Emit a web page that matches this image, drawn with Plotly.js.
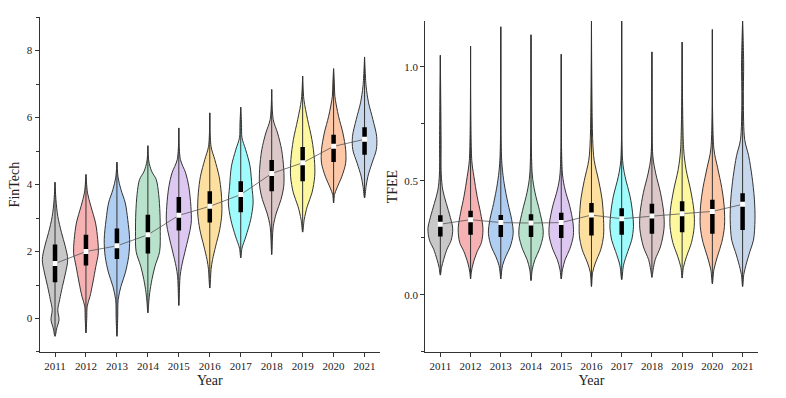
<!DOCTYPE html>
<html>
<head>
<meta charset="utf-8">
<script src="https://cdn.plot.ly/plotly-3.0.1.min.js"></script>
<style>
  html, body { margin: 0; padding: 0; background: #fff; }
  #chart { width: 786px; height: 398px; }
</style>
</head>
<body>
<div id="chart"></div>
<script>
const years = [2011, 2012, 2013, 2014, 2015, 2016, 2017, 2018, 2019, 2020, 2021];
const yearColors = ['#c8c8c8', '#f6b2b2', '#b0cdf2', '#b8e2cc', '#dcc8f0', '#fde0a0',
                    '#a0fcfc', '#dcc8c8', '#fdf8a0', '#fcc8a8', '#c8d8ec'];

// FinTech: violin outline, value levels (bottom -> top) and density half widths
const finLevels = [
  [-0.53, -0.28, -0.04, 0.26, 0.56, 0.96, 1.36, 1.76, 2.16, 2.56, 3.05, 3.55, 4.07],
  [-0.43, 0.0, 0.37, 0.66, 1.06, 1.56, 1.96, 2.36, 2.85, 3.35, 3.75, 4.3],
  [-0.53, 0.0, 0.56, 0.96, 1.36, 1.86, 2.36, 2.95, 3.45, 3.85, 4.2, 4.67],
  [0.17, 0.5, 0.77, 1.16, 1.56, 2.0, 2.6, 3.15, 3.7, 4.15, 4.4, 4.7, 5.16],
  [0.39, 1.0, 1.26, 1.56, 1.96, 2.46, 2.85, 3.35, 3.95, 4.35, 4.75, 5.69],
  [0.91, 1.2, 1.46, 1.76, 2.16, 2.65, 3.15, 3.75, 4.25, 4.75, 5.14, 6.14],
  [1.81, 2.1, 2.46, 2.95, 3.45, 3.95, 4.55, 5.04, 5.4, 5.8, 6.31],
  [1.91, 2.4, 2.75, 3.15, 3.55, 3.95, 4.45, 5.04, 5.54, 5.94, 6.84],
  [2.58, 2.95, 3.35, 3.75, 4.25, 4.75, 5.34, 5.94, 6.54, 7.24],
  [3.45, 3.7, 3.9, 4.25, 4.64, 5.04, 5.54, 6.04, 6.64, 7.0, 7.46],
  [3.6, 3.95, 4.25, 4.64, 5.04, 5.44, 5.94, 6.44, 6.94, 7.81]
];
const finHalfWidths = [
  [0, 0.06, 0.13, 0.09, 0.15, 0.24, 0.34, 0.41, 0.33, 0.21, 0.09, 0.03, 0],
  [0, 0.025, 0.04, 0.13, 0.22, 0.32, 0.40, 0.38, 0.31, 0.16, 0.05, 0],
  [0, 0.025, 0.04, 0.13, 0.27, 0.38, 0.41, 0.35, 0.27, 0.13, 0.04, 0],
  [0, 0.03, 0.06, 0.13, 0.23, 0.38, 0.40, 0.39, 0.35, 0.27, 0.12, 0.03, 0],
  [0, 0.025, 0.04, 0.09, 0.19, 0.32, 0.40, 0.39, 0.32, 0.22, 0.05, 0],
  [0, 0.025, 0.04, 0.09, 0.19, 0.32, 0.39, 0.37, 0.30, 0.16, 0.04, 0],
  [0, 0.04, 0.17, 0.32, 0.40, 0.36, 0.30, 0.16, 0.04, 0.025, 0],
  [0, 0.025, 0.05, 0.15, 0.30, 0.39, 0.39, 0.32, 0.19, 0.05, 0],
  [0, 0.05, 0.15, 0.30, 0.39, 0.38, 0.30, 0.16, 0.04, 0],
  [0, 0.03, 0.11, 0.27, 0.39, 0.39, 0.30, 0.16, 0.04, 0.025, 0],
  [0, 0.05, 0.11, 0.24, 0.38, 0.39, 0.27, 0.13, 0.05, 0]
];
const finQ1 = [1.08, 1.58, 1.78, 1.94, 2.63, 2.87, 3.17, 3.8, 4.1, 4.67, 4.89];
const finQ3 = [2.21, 2.5, 2.69, 3.1, 3.63, 3.8, 4.1, 4.73, 5.12, 5.49, 5.71];
const finMedian = [1.64, 2.0, 2.17, 2.5, 3.08, 3.35, 3.7, 4.33, 4.65, 5.14, 5.35];

// TFEE
const tfeeLevels = [
  [0.087, 0.12, 0.155, 0.20, 0.24, 0.29, 0.34, 0.40, 0.46, 0.53, 0.68, 1.05],
  [0.07, 0.10, 0.14, 0.19, 0.23, 0.29, 0.36, 0.43, 0.52, 0.59, 1.09],
  [0.07, 0.10, 0.13, 0.17, 0.21, 0.27, 0.33, 0.40, 0.49, 0.59, 1.175],
  [0.063, 0.11, 0.155, 0.20, 0.26, 0.30, 0.37, 0.45, 0.53, 1.14],
  [0.07, 0.11, 0.155, 0.20, 0.26, 0.315, 0.39, 0.46, 0.53, 1.055],
  [0.037, 0.10, 0.14, 0.20, 0.26, 0.33, 0.42, 0.50, 0.59, 0.68, 1.2],
  [0.067, 0.13, 0.19, 0.24, 0.30, 0.36, 0.43, 0.52, 0.59, 1.2],
  [0.077, 0.11, 0.155, 0.21, 0.29, 0.36, 0.45, 0.53, 0.61, 1.065],
  [0.074, 0.12, 0.17, 0.23, 0.30, 0.37, 0.46, 0.55, 0.64, 1.108],
  [0.049, 0.11, 0.17, 0.23, 0.30, 0.39, 0.47, 0.56, 0.64, 1.163],
  [0.037, 0.09, 0.13, 0.19, 0.24, 0.33, 0.42, 0.52, 0.61, 0.68, 0.85, 1.02, 1.2]
];
const tfeeHalfWidths = [
  [0, 0.04, 0.11, 0.22, 0.36, 0.41, 0.33, 0.20, 0.08, 0.03, 0.025, 0],
  [0, 0.025, 0.09, 0.22, 0.36, 0.41, 0.33, 0.22, 0.11, 0.04, 0],
  [0, 0.025, 0.06, 0.17, 0.31, 0.41, 0.36, 0.24, 0.11, 0.03, 0],
  [0, 0.04, 0.13, 0.28, 0.40, 0.39, 0.28, 0.13, 0.04, 0],
  [0, 0.04, 0.13, 0.28, 0.40, 0.39, 0.28, 0.13, 0.04, 0],
  [0, 0.04, 0.13, 0.31, 0.40, 0.40, 0.35, 0.24, 0.09, 0.04, 0],
  [0, 0.06, 0.20, 0.33, 0.39, 0.36, 0.28, 0.11, 0.03, 0],
  [0, 0.04, 0.11, 0.28, 0.40, 0.39, 0.28, 0.13, 0.03, 0],
  [0, 0.04, 0.15, 0.31, 0.40, 0.39, 0.28, 0.13, 0.05, 0],
  [0, 0.05, 0.17, 0.31, 0.40, 0.39, 0.31, 0.17, 0.05, 0],
  [0, 0.04, 0.11, 0.24, 0.36, 0.41, 0.39, 0.31, 0.20, 0.07, 0.025, 0.035, 0]
];
const tfeeQ1 = [0.256, 0.264, 0.254, 0.254, 0.25, 0.26, 0.264, 0.268, 0.275, 0.268, 0.285];
const tfeeQ3 = [0.349, 0.369, 0.35, 0.354, 0.36, 0.403, 0.38, 0.40, 0.41, 0.417, 0.446];
const tfeeMedian = [0.31, 0.33, 0.317, 0.315, 0.317, 0.35, 0.334, 0.346, 0.356, 0.366, 0.397];

const outline = '#333333';

function panelTraces(levels, halfWidths, q1, q3, med, xa, ya) {
  const traces = [];
  years.forEach((yr, i) => {
    const lv = levels[i], hw = halfWidths[i];
    const xs = lv.map((v, k) => yr + hw[k]).concat(lv.slice().reverse().map((v, k) => yr - hw[hw.length - 1 - k]));
    const ys = lv.concat(lv.slice().reverse());
    traces.push({
      type: 'scatter', mode: 'lines', x: xs, y: ys, xaxis: xa, yaxis: ya,
      fill: 'toself', fillcolor: yearColors[i],
      line: { color: outline, width: 1, shape: 'spline', smoothing: 0.9 },
      hoverinfo: 'skip', showlegend: false
    });
  });
  // whiskers (min to max) and interquartile boxes
  const wx = [], wy = [], bx = [], by = [];
  years.forEach((yr, i) => {
    wx.push(yr, yr, null);
    wy.push(levels[i][0], levels[i][levels[i].length - 1], null);
    bx.push(yr, yr, null);
    by.push(q1[i], q3[i], null);
  });
  traces.push({ type: 'scatter', mode: 'lines', x: wx, y: wy, xaxis: xa, yaxis: ya,
    line: { color: outline, width: 1 }, showlegend: false, hoverinfo: 'skip' });
  traces.push({ type: 'scatter', mode: 'lines', x: bx, y: by, xaxis: xa, yaxis: ya,
    line: { color: '#000', width: 4.5 }, showlegend: false, hoverinfo: 'skip' });
  traces.push({ type: 'scatter', mode: 'lines+markers', x: years, y: med, xaxis: xa, yaxis: ya,
    line: { color: '#555', width: 0.8 },
    marker: { color: '#fff', size: 5, symbol: 'square', line: { width: 0 } },
    showlegend: false });
  return traces;
}

const data = panelTraces(finLevels, finHalfWidths, finQ1, finQ3, finMedian, 'x', 'y')
  .concat(panelTraces(tfeeLevels, tfeeHalfWidths, tfeeQ1, tfeeQ3, tfeeMedian, 'x2', 'y2'));

const tickFont = { family: 'Liberation Serif', size: 11, color: '#222' };
const titleFont = { family: 'Liberation Serif', size: 14, color: '#222' };

const xBase = {
  range: [2010.5, 2021.5], tickvals: years, ticktext: years.map(String),
  showline: true, linecolor: outline, linewidth: 1, ticks: 'outside', ticklen: 4,
  tickcolor: outline, showgrid: false, zeroline: false, tickfont: tickFont,
  title: { text: 'Year', font: titleFont, standoff: 4 }
};

const layout = {
  width: 786, height: 398,
  margin: { l: 0, r: 0, t: 0, b: 0 },
  paper_bgcolor: '#fff', plot_bgcolor: '#fff',
  showlegend: false,
  xaxis: Object.assign({}, xBase, { domain: [0.0503, 0.4835], anchor: 'y' }),
  yaxis: {
    domain: [0.1156, 0.957], anchor: 'x', range: [-1, 9], dtick: 2, tick0: 0,
    showline: true, linecolor: outline, linewidth: 1, ticks: 'outside', ticklen: 4,
    tickcolor: outline, showgrid: false, zeroline: false, tickfont: tickFont,
    minor: { dtick: 1, ticks: 'outside', ticklen: 3, tickcolor: outline, showgrid: false },
    title: { text: 'FinTech', font: titleFont, standoff: 3 }
  },
  xaxis2: Object.assign({}, xBase, { domain: [0.541, 0.964], anchor: 'y2' }),
  yaxis2: {
    domain: [0.1156, 0.947], anchor: 'x2', range: [-0.25, 1.2], dtick: 0.5, tick0: 0,
    tickformat: '.1f',
    showline: true, linecolor: outline, linewidth: 1, ticks: 'outside', ticklen: 4,
    tickcolor: outline, showgrid: false, zeroline: false, tickfont: tickFont,
    minor: { dtick: 0.25, ticks: 'outside', ticklen: 3, tickcolor: outline, showgrid: false },
    title: { text: 'TFEE', font: titleFont, standoff: 3 }
  }
};

Plotly.newPlot('chart', data, layout, { staticPlot: true, displayModeBar: false });
</script>
</body>
</html>
